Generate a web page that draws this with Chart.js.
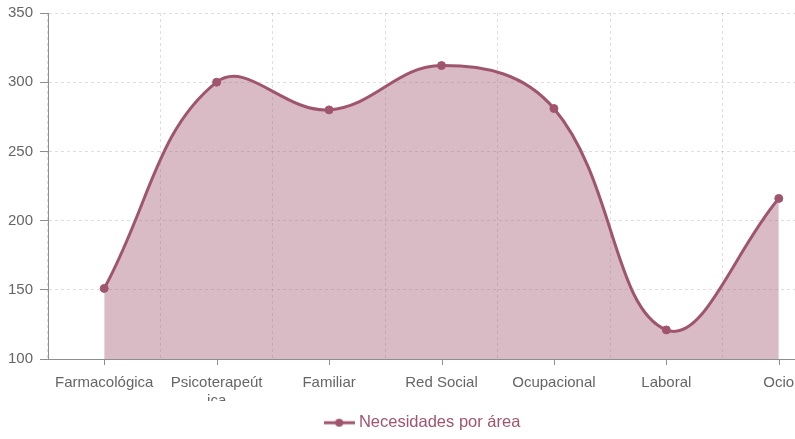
<!DOCTYPE html>
<html>
<head>
<meta charset="utf-8">
<script src="https://cdn.jsdelivr.net/npm/chart.js@4/dist/chart.umd.min.js"></script>
<style>
  html, body { margin: 0; padding: 0; background: #fff; overflow: hidden; }
  #wrap { width: 840px; height: 439px; }
</style>
</head>
<body>
<div id="wrap"><canvas id="c" width="840" height="439"></canvas></div>
<script>
// Needs per area
const categories = ['Farmacológica', 'Psicoterapeútica', 'Familiar', 'Red Social', 'Ocupacional', 'Laboral', 'Ocio'];
const needs = [151, 300, 280, 312, 281, 121, 216];
const seriesName = 'Necesidades por área';
const yTicks = { min: 100, max: 350, step: 50 };

const lineColor = 'rgb(160, 85, 110)';
const fillColor = 'rgba(160, 85, 110, 0.4)';
const gridColor = 'rgba(0, 0, 0, 0.13)';
const axisColor = '#8e8e8e';

Chart.defaults.font.family = '"Liberation Sans", Arial, Helvetica, sans-serif';
Chart.defaults.font.size = 15;
Chart.defaults.color = '#666';

// Legend symbol: short line with a dot in the middle
function legendSymbol() {
  const c = document.createElement('canvas');
  c.width = 31; c.height = 10;
  const g = c.getContext('2d');
  g.strokeStyle = lineColor; g.lineWidth = 3;
  g.beginPath(); g.moveTo(0, 5); g.lineTo(31, 5); g.stroke();
  g.fillStyle = lineColor;
  g.beginPath(); g.arc(15.5, 5, 4, 0, Math.PI * 2); g.fill();
  return c;
}

// Tick marks under each category label, and trimming of the wrapped label overflow
const axisDecor = {
  id: 'axisDecor',
  afterDraw(chart) {
    const { ctx } = chart;
    const x = chart.scales.x;
    const legend = chart.legend;
    ctx.save();
    ctx.fillStyle = '#fff';
    const trimTop = x.top + 42;
    const trimBottom = legend.top + 10;
    ctx.fillRect(x.left - 60, trimTop, x.right - x.left + 120, trimBottom - trimTop);
    ctx.strokeStyle = axisColor;
    ctx.lineWidth = 1;
    for (let i = 0; i < x.ticks.length; i++) {
      const px = Math.round(x.getPixelForTick(i)) + 0.5;
      ctx.beginPath();
      ctx.moveTo(px, x.top);
      ctx.lineTo(px, x.top + 6);
      ctx.stroke();
    }
    ctx.restore();
  }
};

new Chart(document.getElementById('c'), {
  type: 'line',
  data: {
    labels: categories,
    datasets: [{
      label: seriesName,
      data: needs,
      borderColor: lineColor,
      backgroundColor: fillColor,
      borderWidth: 3,
      tension: 0.4,
      fill: 'start',
      pointRadius: 4,
      pointBackgroundColor: lineColor,
      pointBorderColor: lineColor,
      pointBorderWidth: 1
    }]
  },
  options: {
    responsive: false,
    animation: false,
    devicePixelRatio: 1,
    layout: { padding: { left: 8, top: 0, right: 0, bottom: -2 } },
    plugins: {
      tooltip: { enabled: false },
      legend: {
        position: 'bottom',
        labels: {
          color: lineColor,
          font: { size: 16.5 },
          padding: 11,
          usePointStyle: true,
          pointStyleWidth: 23,
          generateLabels(chart) {
            return chart.data.datasets.map((ds, i) => ({
              text: ds.label,
              fontColor: lineColor,
              pointStyle: legendSymbol(),
              strokeStyle: lineColor,
              fillStyle: lineColor,
              lineWidth: 0,
              hidden: false,
              datasetIndex: i
            }));
          }
        }
      }
    },
    scales: {
      x: {
        offset: true,
        grid: {
          offset: true,
          color: gridColor,
          tickColor: 'transparent',
          tickLength: 8
        },
        border: { color: axisColor, dash: [3, 3] },
        ticks: {
          padding: 7,
          maxRotation: 0,
          autoSkip: false,
          callback(value) {
            const s = this.getLabelForValue(value);
            return s.length > 13 ? [s.slice(0, 13), s.slice(13)] : s;
          }
        },
        afterFit(scale) { scale.height = 44.5; }
      },
      y: {
        min: yTicks.min,
        max: yTicks.max,
        grid: {
          color: gridColor,
          tickColor: axisColor,
          tickLength: 8,
          tickBorderDash: []
        },
        border: { color: axisColor, dash: [3, 3] },
        ticks: { stepSize: yTicks.step, padding: 7, font: { lineHeight: 0.8 } },
        afterFit(scale) { scale.width = 40; }
      }
    }
  },
  plugins: [axisDecor]
});
</script>
</body>
</html>
